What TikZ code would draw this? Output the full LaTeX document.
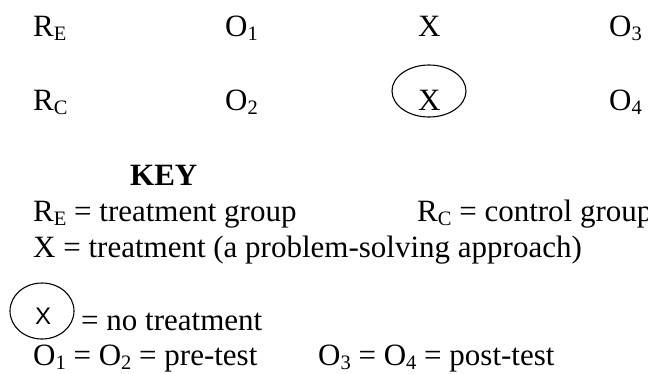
\documentclass[tikz,border=0pt]{standalone}
\usepackage{fontspec}
\setmainfont{Liberation Serif}
\newfontfamily\keysans{Liberation Sans}
\newcommand{\sbs}[1]{\raisebox{-4pt}{\fontsize{20.5}{20.5}\selectfont #1}}
\begin{document}
\begin{tikzpicture}[x=1pt,y=-1pt,
  txt/.style={anchor=base west,inner sep=0pt,font=\fontsize{31}{35}\selectfont},
  ringline/.style={line width=1.1pt}]
\useasboundingbox (0,0) rectangle (648,373);
% design rows
\node[txt] (re) at (33,36) {R\sbs{E}};
\node[txt] (o1) at (225,36) {O\sbs{1}};
\node[txt] (x1) at (418,36) {X};
\node[txt] (o3) at (609,36) {O\sbs{3}};
\node[txt] (rc) at (33,110) {R\sbs{C}};
\node[txt] (o2) at (225,110) {O\sbs{2}};
\node[txt] (x2) at (418,110) {X};
\node[txt] (o4) at (609,110) {O\sbs{4}};
\draw[ringline] (429,91) ellipse [x radius=37,y radius=26];
% key
\node[txt,font=\fontsize{31}{35}\selectfont\bfseries] (key) at (130,185) {KEY};
\node[txt] (k1) at (33,221) {R\sbs{E} = treatment group};
\node[txt] (k2) at (417,221) {R\sbs{C} = control group};
\node[txt] (k3) at (33,257) {X = treatment (a problem-solving approach)};
\draw[ringline] (42,311) ellipse [x radius=32,y radius=28];
\node[txt,font=\fontsize{24}{28}\keysans] (kx) at (35,324) {X};
\node[txt] (k4) at (81,330) {= no treatment};
\node[txt] (k5) at (33,365) {O\sbs{1} = O\sbs{2} = pre-test};
\node[txt] (k6) at (318,365) {O\sbs{3} = O\sbs{4} = post-test};
\end{tikzpicture}
\end{document}
